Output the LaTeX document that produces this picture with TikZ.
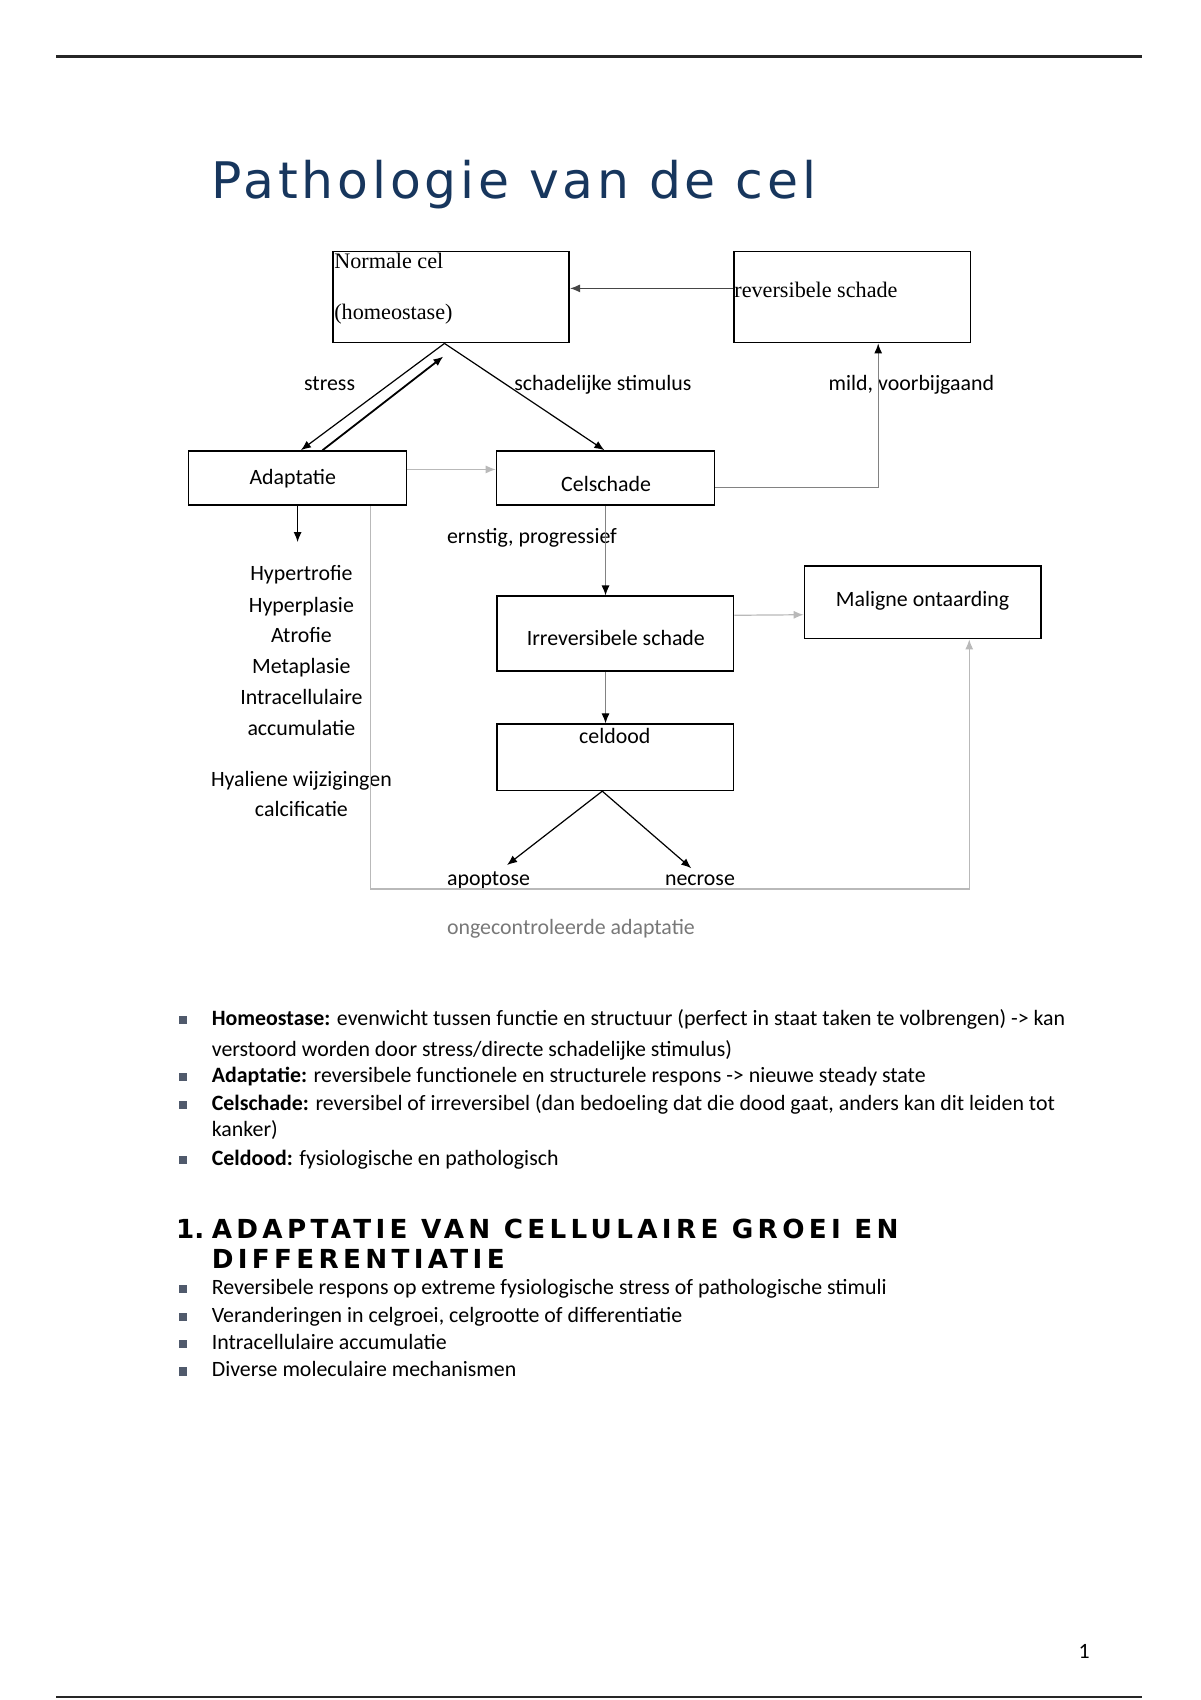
\documentclass[tikz,border=0pt]{standalone}
\usepackage{fontspec}
\setmainfont{Carlito}
\newfontfamily\oldfont{Liberation Serif}
\newfontfamily\titlefont[LetterSpace=7.5]{DejaVu Sans}
\newfontfamily\headfont[LetterSpace=16.5]{DejaVu Sans}
\newfontfamily\headnrfont{DejaVu Sans}
\usepackage{xcolor}
\definecolor{titleblue}{RGB}{23,54,93}
\definecolor{bulletgray}{RGB}{80,90,108}
\definecolor{lightline}{RGB}{185,185,185}
\definecolor{midline}{RGB}{130,130,130}
\definecolor{darkline}{RGB}{70,70,70}
\definecolor{softtext}{RGB}{120,120,120}
\usepackage{tikz}
\usetikzlibrary{arrows.meta}
\newcommand{\px}{0.53775pt}
\newcommand{\widthwide}{218}
\newcommand{\widthsmall}{201}
\tikzset{
    box/.style={draw, rectangle, line width=0.8pt, inner sep=0pt},
    widebox/.style={box, minimum width=\widthwide*\px},
    smallbox/.style={box, minimum width=\widthsmall*\px, minimum height=50*\px},
    word/.style={inner sep=0pt, font=\fontsize{10.85}{13}\selectfont},
    oldword/.style={inner sep=0pt, font=\oldfont\fontsize{11}{13}\selectfont},
    body/.style={word, anchor=base west},
    heading/.style={inner sep=0pt, anchor=base west, font=\headfont\bfseries\fontsize{13}{15}\selectfont},
    bulletmark/.style={fill=bulletgray, minimum size=7.5*\px, inner sep=0pt},
    link/.style={-{Latex[length=5pt, width=4pt]}, line width=0.6pt},
    faint/.style={link, lightline},
    greylink/.style={-{Latex[length=5pt, width=4pt, color=black]}, line width=0.6pt, midline}
}
\begin{document}
\begin{tikzpicture}[x=\px, y=-\px]
    \useasboundingbox (0,0) rectangle (1107,1568);

    % page rules
    \coordinate (top-left) at (52,52);
    \coordinate (top-right) at (1053,52);
    \coordinate (foot-left) at (52,1565);
    \coordinate (foot-right) at (1053,1565);
    \draw[line width=1.2pt, black!85] (top-left) -- (top-right);
    \draw[line width=1.2pt, black!85] (foot-left) -- (foot-right);
    \node[word, anchor=base] (page) at (1000,1530) {1};

    \node[inner sep=0pt, anchor=base west, text=titleblue, font=\titlefont\fontsize{25}{30}\selectfont] (title) at (195,183) {Pathologie van de cel};

    % boxes
    \node[widebox, minimum height=84*\px] (normal) at (416,274) {};
    \node[widebox, minimum height=84*\px] (reversible) at (786,274) {};
    \node[smallbox] (adaptation) at (274.5,441) {};
    \node[smallbox] (damage) at (558.5,441) {};
    \node[widebox, minimum height=69*\px] (irreversible) at (567.5,584.5) {};
    \node[widebox, minimum height=67*\px] (malignant) at (851,555.5) {};
    \node[widebox, minimum height=61*\px] (celldeath) at (567.5,698.5) {};

    % texts in and around boxes
    \node[oldword, anchor=base west] (normal-1) at (308,248) {Normale cel};
    \node[oldword, anchor=base west] (normal-2) at (308,295) {(homeostase)};
    \node[oldword, anchor=base west] (reversible-text) at (677,274) {reversibele schade};
    \node[word, anchor=base] (adaptation-text) at (270,447) {Adaptatie};
    \node[word, anchor=base] (damage-text) at (559,453) {Celschade};
    \node[word, anchor=base] (irreversible-text) at (568,595) {Irreversibele schade};
    \node[word, anchor=base] (malignant-text) at (851,559) {Maligne ontaarding};
    \node[word, anchor=base] (celldeath-text) at (567,686) {celdood};

    \node[word, anchor=base] (stress) at (304,360) {stress};
    \node[word, anchor=base west] (stimulus) at (474,360) {schadelijke stimulus};
    \node[word, anchor=base west] (mild) at (764,360) {mild, voorbijgaand};
    \node[word, anchor=base west] (severe) at (412,501) {ernstig, progressief};
    \node[word, anchor=base west] (apoptosis) at (412,817) {apoptose};
    \node[word, anchor=base west] (necrosis) at (613,817) {necrose};
    \node[word, anchor=base west, text=softtext] (uncontrolled) at (412,862) {ongecontroleerde adaptatie};

    \foreach \y/\kind in {535/Hypertrofie, 565/Hyperplasie, 593/Atrofie, 621/Metaplasie,
                          650/Intracellulaire, 678/accumulatie, 725/Hyaliene wijzigingen, 753/calcificatie}
        \node[word, anchor=base] (kind-\y) at (278,\y) {\kind};

    % connectors
    \coordinate (list-top) at (274.5,500);
    \coordinate (detour) at (894,820);

    \draw[link, darkline] ([yshift=8*\px]reversible.west) -- ([yshift=8*\px]normal.east);
    \draw[link] ([xshift=-6*\px]normal.south) -- ([xshift=3*\px]adaptation.north);
    \draw[link, line width=0.9pt] ([xshift=23*\px]adaptation.north) -- ([xshift=-7*\px, yshift=-12*\px]normal.south);
    \draw[link] ([xshift=-6*\px]normal.south) -- ([xshift=-1*\px]damage.north);
    \draw[faint] ([yshift=8*\px]adaptation.east) -- ([yshift=8*\px]damage.west);
    \draw[greylink] ([yshift=-9*\px]damage.east) -| ([xshift=24*\px]reversible.south);
    \draw[link] (adaptation.south) -- (list-top);
    \draw[faint] ([xshift=67*\px]adaptation.south) |- (detour) -- ([xshift=43*\px]malignant.south);
    \draw[greylink] (damage.south) -- (damage.south |- irreversible.north);
    \draw[faint] ([yshift=17*\px]irreversible.east) -- ([yshift=-11.5*\px]malignant.west);
    \draw[greylink] (damage.south |- irreversible.south) -- (damage.south |- celldeath.north);
    \draw[link] ([xshift=-12*\px]celldeath.south) -- ([xshift=17*\px, yshift=6*\px]apoptosis.north);
    \draw[link] ([xshift=-12*\px]celldeath.south) -- ([xshift=-8*\px, yshift=6*\px]necrosis.north);

    % summary list
    \foreach \y in {941, 993, 1019, 1070, 1189, 1215, 1240, 1265}
        \node[bulletmark] (mark-\y) at (169,\y) {};
    \node[body] (homeostasis-1) at (195,946) {\textbf{Homeostase:} evenwicht tussen functie en structuur (perfect in staat taken te volbrengen) -> kan};
    \node[body] (homeostasis-2) at (195,974) {verstoord worden door stress/directe schadelijke stimulus)};
    \node[body] (adaptation-line) at (195,998) {\textbf{Adaptatie:} reversibele functionele en structurele respons -> nieuwe steady state};
    \node[body] (damage-1) at (195,1024) {\textbf{Celschade:} reversibel of irreversibel (dan bedoeling dat die dood gaat, anders kan dit leiden tot};
    \node[body] (damage-2) at (195,1048) {kanker)};
    \node[body] (celldeath-line) at (195,1075) {\textbf{Celdood:} fysiologische en pathologisch};

    % section heading
    \node[heading, font=\headnrfont\bfseries\fontsize{13}{15}\selectfont] (section-nr) at (162,1142) {1.};
    \node[heading] (section-1) at (195,1142) {ADAPTATIE VAN CELLULAIRE GROEI EN};
    \node[heading] (section-2) at (195,1170) {DIFFERENTIATIE};

    \node[body] (point-1) at (195,1194) {Reversibele respons op extreme fysiologische stress of pathologische stimuli};
    \node[body] (point-2) at (195,1220) {Veranderingen in celgroei, celgrootte of differentiatie};
    \node[body] (point-3) at (195,1245) {Intracellulaire accumulatie};
    \node[body] (point-4) at (195,1270) {Diverse moleculaire mechanismen};
\end{tikzpicture}
\end{document}
